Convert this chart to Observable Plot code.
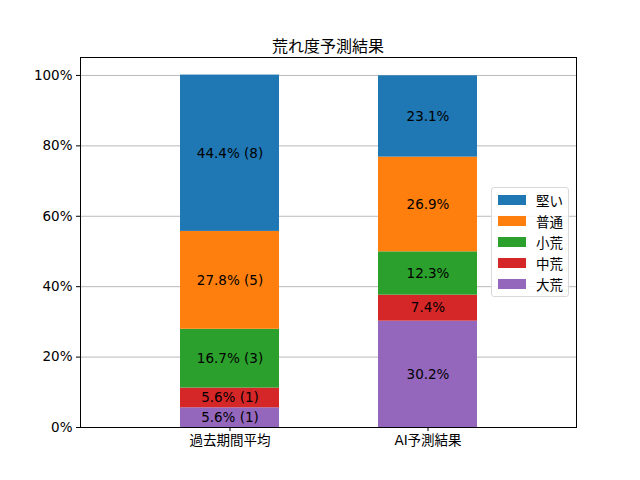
<!DOCTYPE html>
<html>
<head>
<meta charset="utf-8">
<script src="https://cdn.jsdelivr.net/npm/d3@7"></script>
<script src="https://cdn.jsdelivr.net/npm/@observablehq/plot@0.6"></script>
<style>
  body { margin: 0; background: #fff; }
  #wrap { position: relative; width: 640px; height: 480px; font-family: "DejaVu Sans", "Noto Sans CJK JP", sans-serif; }
  #title { position: absolute; left: 80px; width: 496px; top: 33px; text-align: center; font-size: 16px; color: #000; }
  #legend { position: absolute; left: 491px; top: 187px; width: 78px; height: 110px; border: 1px solid #d9d9d9; border-radius: 3px; background: rgba(255,255,255,0.85); font-size: 13.5px; box-sizing: border-box; padding-top: 1px; }
  .item { display: flex; align-items: center; height: 21px; }
  .sw { width: 28px; height: 10px; margin-left: 6px; margin-right: 10px; }
</style>
</head>
<body>
<div id="wrap">
  <div id="chart"></div>
  <div id="title">荒れ度予測結果</div>
  <div id="legend"></div>
</div>
<script>
const categories = ["過去期間平均", "AI予測結果"];
const series = ["大荒", "中荒", "小荒", "普通", "堅い"];
const colors = ["#9467bd", "#d62728", "#2ca02c", "#ff7f0e", "#1f77b4"];
const pastPct = [5.6, 5.6, 16.7, 27.8, 44.4];
const pastCount = [1, 1, 3, 5, 8];
const aiPct = [30.2, 7.4, 12.3, 26.9, 23.1];
const yTicks = [0, 20, 40, 60, 80, 100];
const legendOrder = ["堅い", "普通", "小荒", "中荒", "大荒"];

const data = [];
series.forEach((s, i) => {
  data.push({cat: categories[0], series: s, value: pastPct[i], label: `${pastPct[i].toFixed(1)}% (${pastCount[i]})`});
});
series.forEach((s, i) => {
  data.push({cat: categories[1], series: s, value: aiPct[i], label: `${aiPct[i].toFixed(1)}%`});
});

const font = '"DejaVu Sans", "Noto Sans CJK JP", sans-serif';

const chart = Plot.plot({
  width: 640,
  height: 480,
  marginLeft: 80,
  marginRight: 64,
  marginTop: 57,
  marginBottom: 53,
  style: {fontFamily: font, fontSize: "13.5px", color: "#000", background: "#fff"},
  x: {domain: categories, paddingInner: 0.5, paddingOuter: 0.5, label: null, tickSize: 4, tickPadding: 4},
  y: {domain: [0, 105.1], ticks: yTicks, tickFormat: d => d + "%", label: null, tickSize: 4, tickPadding: 4},
  color: {domain: series, range: colors},
  marks: [
    Plot.gridY(yTicks, {stroke: "#a8a8a8", strokeOpacity: 1, strokeWidth: 0.8}),
    Plot.barY(data, {x: "cat", y: "value", z: "series", fill: "series"}),
    Plot.text(data, Plot.stackY({x: "cat", y: "value", z: "series", text: "label", fill: "#000", fontSize: 13.5})),
    Plot.frame({stroke: "#000", strokeWidth: 1})
  ]
});
document.getElementById("chart").appendChild(chart);

const legend = d3.select("#legend");
legendOrder.forEach(s => {
  const it = legend.append("div").attr("class", "item");
  it.append("div").attr("class", "sw").style("background", colors[series.indexOf(s)]);
  it.append("span").text(s);
});
</script>
</body>
</html>
